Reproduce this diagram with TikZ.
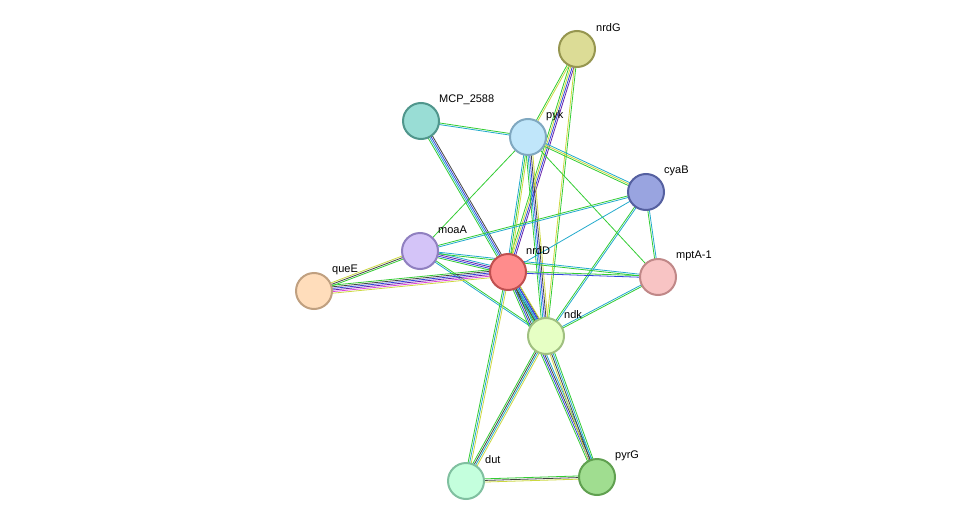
\documentclass[tikz,border=0pt]{standalone}
\usepackage{fontspec}
\setmainfont{Liberation Sans}
\usetikzlibrary{calc}
\definecolor{eg}{HTML}{33CC33}
\definecolor{ey}{HTML}{CCD840}
\definecolor{eb}{HTML}{3344DD}
\definecolor{ec}{HTML}{22AACC}
\definecolor{ep}{HTML}{6622AA}
\definecolor{ek}{HTML}{444444}
\definecolor{em}{HTML}{DD44DD}
\newcommand\edg[3]{\foreach \cl/\oo in {#3}{\draw[draw=\cl,line width=0.8pt] ($(#1)!\oo pt!90:(#2)$) -- ($(#2)!\oo pt!-90:(#1)$);}}
\tikzset{prot/.style={circle,minimum size=36pt,inner sep=0pt,line width=2pt},
lab/.style={anchor=west,font=\fontsize{11}{12}\selectfont,inner sep=0pt}}
\begin{document}
\begin{tikzpicture}[x=1pt,y=-1pt]
\useasboundingbox (0,0) rectangle (976,527);
\coordinate (nrdG) at (577,49);
\coordinate (MCP) at (421,121);
\coordinate (pyk) at (528,137);
\coordinate (cyaB) at (646,192);
\coordinate (moaA) at (420,251);
\coordinate (nrdD) at (508,272);
\coordinate (queE) at (314,291);
\coordinate (mptA) at (658,277);
\coordinate (ndk) at (546,336);
\coordinate (dut) at (466,481);
\coordinate (pyrG) at (597,477);
\edg{nrdG}{nrdD}{eg/-2.4,ey/-0.8,eb/0.8,ep/2.4}
\edg{nrdG}{pyk}{eg/-0.8,ey/0.8}
\edg{nrdG}{ndk}{ey/-0.8,eg/0.8}
\edg{MCP}{pyk}{ec/-0.8,eg/0.8}
\edg{MCP}{ndk}{eg/-2.4,ec/-0.8,eb/0.8,ek/2.4}
\edg{pyk}{cyaB}{eg/-1.6,ey/0,ec/1.6}
\edg{pyk}{mptA}{eg/0}
\edg{pyk}{moaA}{eg/0}
\edg{pyk}{nrdD}{ec/-1.6,eg/0,ey/1.6}
\edg{pyk}{ndk}{eg/-3.2,ec/-1.6,eb/0,ek/1.6,ey/3.2}
\edg{cyaB}{moaA}{eg/-0.8,ec/0.8}
\edg{cyaB}{nrdD}{ec/0}
\edg{cyaB}{ndk}{eg/-0.8,ec/0.8}
\edg{cyaB}{mptA}{eg/-0.8,ec/0.8}
\edg{moaA}{queE}{ey/-1.6,ek/0,eg/1.6}
\edg{moaA}{nrdD}{eg/-2.4,eb/-0.8,ep/0.8,ec/2.4}
\edg{moaA}{ndk}{ec/-0.8,eg/0.8}
\edg{moaA}{mptA}{eg/-0.8,ec/0.8}
\edg{queE}{nrdD}{ey/-4,em/-2.4,ep/-0.8,eb/0.8,ek/2.4,eg/4}
\edg{nrdD}{mptA}{eb/-0.8,eg/0.8}
\edg{nrdD}{ndk}{eg/-3.2,ek/-1.6,ec/0,eb/1.6,ey/3.2}
\edg{nrdD}{dut}{eg/-1.6,ec/0,ey/1.6}
\edg{nrdD}{pyrG}{eg/-2.4,eb/-0.8,ek/0.8,ec/2.4}
\edg{ndk}{mptA}{eg/-0.8,ec/0.8}
\edg{ndk}{dut}{eg/-2.4,ek/-0.8,ec/0.8,ey/2.4}
\edg{ndk}{pyrG}{ey/-2.4,ek/-0.8,ec/0.8,eg/2.4}
\edg{dut}{pyrG}{ey/-1.6,ek/0,eg/1.6}
\node[prot,fill={rgb,255:red,220;green,220;blue,150},draw={rgb,255:red,150;green,150;blue,80}] (n1) at (nrdG) {};
\node[prot,fill={rgb,255:red,153;green,221;blue,213},draw={rgb,255:red,80;green,150;blue,140}] (n2) at (MCP) {};
\node[prot,fill={rgb,255:red,192;green,230;blue,250},draw={rgb,255:red,128;green,168;blue,192}] (n3) at (pyk) {};
\node[prot,fill={rgb,255:red,153;green,164;blue,224},draw={rgb,255:red,85;green,96;blue,160}] (n4) at (cyaB) {};
\node[prot,fill={rgb,255:red,212;green,196;blue,248},draw={rgb,255:red,144;green,128;blue,192}] (n5) at (moaA) {};
\node[prot,fill={rgb,255:red,255;green,140;blue,140},draw={rgb,255:red,192;green,80;blue,80}] (n6) at (nrdD) {};
\node[prot,fill={rgb,255:red,255;green,221;blue,187},draw={rgb,255:red,192;green,160;blue,128}] (n7) at (queE) {};
\node[prot,fill={rgb,255:red,248;green,196;blue,196},draw={rgb,255:red,192;green,136;blue,136}] (n8) at (mptA) {};
\node[prot,fill={rgb,255:red,230;green,255;blue,196},draw={rgb,255:red,160;green,192;blue,128}] (n9) at (ndk) {};
\node[prot,fill={rgb,255:red,196;green,255;blue,221},draw={rgb,255:red,128;green,192;blue,160}] (n10) at (dut) {};
\node[prot,fill={rgb,255:red,160;green,221;blue,144},draw={rgb,255:red,96;green,160;blue,80}] (n11) at (pyrG) {};
\node[lab] (l1) at (596,28) {nrdG};
\node[lab] (l2) at (439,100) {MCP\_2588};
\node[lab] (l3) at (546,116) {pyk};
\node[lab] (l4) at (664,171) {cyaB};
\node[lab] (l5) at (438,230) {moaA};
\node[lab] (l6) at (526,251) {nrdD};
\node[lab] (l7) at (332,270) {queE};
\node[lab] (l8) at (676,256) {mptA-1};
\node[lab] (l9) at (564,315) {ndk};
\node[lab] (l10) at (485,460) {dut};
\node[lab] (l11) at (615,456) {pyrG};
\end{tikzpicture}
\end{document}
